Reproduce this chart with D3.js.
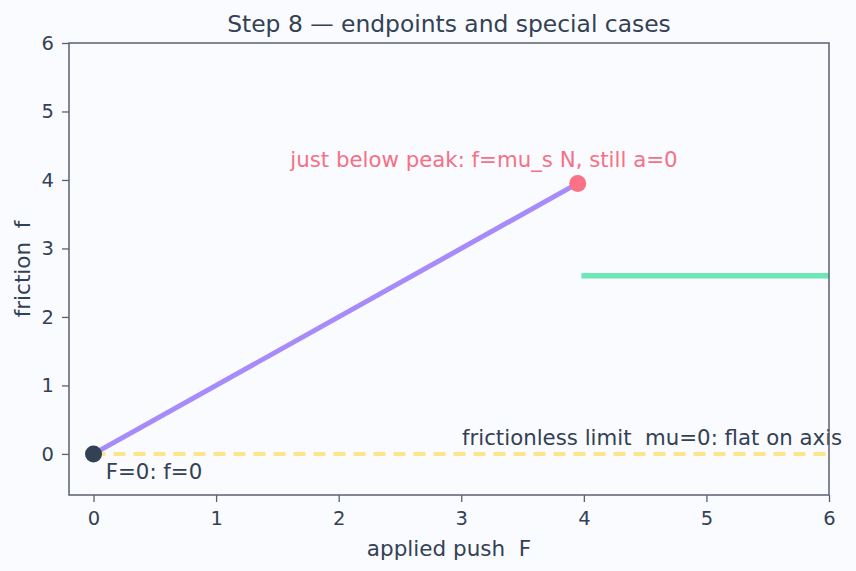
<!DOCTYPE html>
<html>
<head>
<meta charset="utf-8">
<script src="https://cdn.jsdelivr.net/npm/d3@7"></script>
<style>
  body { margin: 0; background: #fafbfe; }
  svg { display: block; font-family: "DejaVu Sans", sans-serif; }
  text { white-space: pre; }
</style>
</head>
<body>
<svg id="chart" width="856" height="571"></svg>
<script>
// ---- data ----
const xTicks = [0, 1, 2, 3, 4, 5, 6];
const yTicks = [0, 1, 2, 3, 4, 5, 6];
const staticLine = [[0, 0], [3.95, 3.95]];      // f = F below the peak
const kineticLine = [[3.98, 2.6], [6, 2.6]];    // sliding friction level
const frictionless = [[0, 0], [6, 0]];          // mu = 0
const peakPoint = [3.95, 3.95];
const originPoint = [0, 0];
const notes = [
  { x: 3.185, y: 4.19, text: "just below peak: f=mu_s N, still a=0", anchor: "middle", color: "#f47187" },
  { x: 0.1, y: -0.365, text: "F=0: f=0", anchor: "start", color: "#334155" },
  { x: 3.006, y: 0.13, text: "frictionless limit  mu=0: flat on axis", anchor: "start", color: "#334155" }
];

// ---- layout ----
const margin = { top: 43, right: 27, bottom: 76, left: 69 };
const width = 856 - margin.left - margin.right,
      height = 571 - margin.top - margin.bottom;

const svg = d3.select("#chart");
const g = svg.append("g").attr("transform", `translate(${margin.left},${margin.top})`);

const x = d3.scaleLinear().domain([-0.2, 6]).range([0, width]);
const y = d3.scaleLinear().domain([-0.6, 6]).range([height, 0]);

const line = d3.line().x(d => x(d[0])).y(d => y(d[1]));

// ---- marks ----
g.append("path").datum(frictionless)
  .attr("d", line).attr("fill", "none")
  .attr("stroke", "#fde68a").attr("stroke-width", 4)
  .attr("stroke-dasharray", "12,8");

g.append("path").datum(staticLine)
  .attr("d", line).attr("fill", "none")
  .attr("stroke", "#a78bfa").attr("stroke-width", 5);

g.append("path").datum(kineticLine)
  .attr("d", line).attr("fill", "none")
  .attr("stroke", "#6ee7b7").attr("stroke-width", 5.5);

g.append("circle")
  .attr("cx", x(peakPoint[0])).attr("cy", y(peakPoint[1]))
  .attr("r", 8.5).attr("fill", "#fb7185");

g.append("circle")
  .attr("cx", x(originPoint[0])).attr("cy", y(originPoint[1]))
  .attr("r", 8.5).attr("fill", "#334155");

g.selectAll(".note").data(notes).enter().append("text")
  .attr("class", "note")
  .attr("x", d => x(d.x)).attr("y", d => y(d.y))
  .attr("text-anchor", d => d.anchor)
  .attr("fill", d => d.color)
  .style("font-size", "21.3px")
  .text(d => d.text);

// ---- axes ----
const xAxis = g.append("g")
  .attr("transform", `translate(0,${height})`)
  .call(d3.axisBottom(x).tickValues(xTicks).tickSize(7).tickPadding(9).tickFormat(d3.format("d")));
const yAxis = g.append("g")
  .call(d3.axisLeft(y).tickValues(yTicks).tickSize(7).tickPadding(8).tickFormat(d3.format("d")));

[xAxis, yAxis].forEach(a => {
  a.select(".domain").remove();
  a.selectAll("line").attr("stroke", "#5b6070").attr("stroke-width", 1.3);
  a.selectAll("text").attr("fill", "#334155").style("font-size", "19.5px").style("font-family", "DejaVu Sans, sans-serif");
});

// frame
g.append("rect")
  .attr("width", width).attr("height", height)
  .attr("fill", "none").attr("stroke", "#5b6070").attr("stroke-width", 1.5);

// ---- titles ----
svg.append("text")
  .attr("x", margin.left + width / 2).attr("y", 32)
  .attr("text-anchor", "middle").attr("fill", "#334155")
  .style("font-size", "23.4px")
  .text("Step 8 \u2014 endpoints and special cases");

svg.append("text")
  .attr("x", margin.left + width / 2).attr("y", 556)
  .attr("text-anchor", "middle").attr("fill", "#334155")
  .style("font-size", "21.5px")
  .text("applied push  F");

svg.append("text")
  .attr("transform", `translate(30,${margin.top + height / 2}) rotate(-90)`)
  .attr("text-anchor", "middle").attr("fill", "#334155")
  .style("font-size", "21.5px")
  .text("friction  f");
</script>
</body>
</html>
